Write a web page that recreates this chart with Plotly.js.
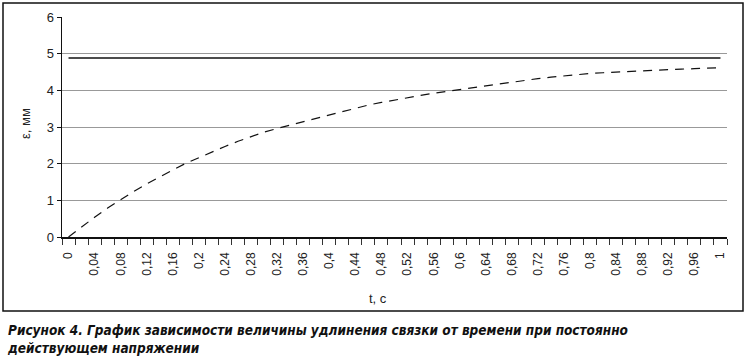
<!DOCTYPE html>
<html>
<head>
<meta charset="utf-8">
<script src="https://cdn.plot.ly/plotly-3.0.1.min.js"></script>
<style>html,body{margin:0;padding:0;background:#fff;}#chart{width:746px;height:356px;}</style>
</head>
<body>
<div id="chart"></div>
<script>
// Time, s
const timeValues = [0,0.02,0.04,0.06,0.08,0.10,0.12,0.14,0.16,0.18,0.20,0.22,0.24,0.26,0.28,0.30,0.32,0.34,0.36,0.38,0.40,0.42,0.44,0.46,0.48,0.50,0.52,0.54,0.56,0.58,0.60,0.62,0.64,0.66,0.68,0.70,0.72,0.74,0.76,0.78,0.80,0.82,0.84,0.86,0.88,0.90,0.92,0.94,0.96,0.98,1.00];
// Elongation, mm (dashed curve)
const elongation = [0,0.28,0.54,0.79,1.02,1.24,1.45,1.65,1.83,2.01,2.17,2.32,2.47,2.61,2.74,2.86,2.96,3.05,3.15,3.25,3.34,3.43,3.52,3.60,3.67,3.74,3.80,3.86,3.92,3.97,4.02,4.08,4.13,4.19,4.24,4.28,4.32,4.36,4.40,4.43,4.46,4.48,4.50,4.52,4.53,4.54,4.56,4.58,4.59,4.61,4.62];
// Steady level (solid line)
const steadyX = [0, 1];
const steadyY = [4.88, 4.88];
// Tick labels
const tickVals = [0,0.04,0.08,0.12,0.16,0.2,0.24,0.28,0.32,0.36,0.4,0.44,0.48,0.52,0.56,0.6,0.64,0.68,0.72,0.76,0.8,0.84,0.88,0.92,0.96,1];
const tickText = ["0","0,04","0,08","0,12","0,16","0,2","0,24","0,28","0,32","0,36","0,4","0,44","0,48","0,52","0,56","0,6","0,64","0,68","0,72","0,76","0,8","0,84","0,88","0,92","0,96","1"];
const yTicks = [0,1,2,3,4,5,6];

const W = 746, H = 356;
const L = 62, R = 727, T = 17, B = 237;
const px = p => (p - L) / (R - L);
const py = p => (B - p) / (B - T);

const font = "Liberation Sans, Arial, sans-serif";

const traces = [
  {x: steadyX, y: steadyY, mode: 'lines', line: {color: '#111', width: 1.5}, hoverinfo: 'skip', showlegend: false},
  {x: timeValues, y: elongation, mode: 'lines', line: {color: '#111', width: 1.2, dash: '9px,7px'}, hoverinfo: 'skip', showlegend: false}
];

const layout = {
  width: W, height: H,
  margin: {l: L, r: W - R, t: T, b: H - B, pad: 0},
  paper_bgcolor: '#fff', plot_bgcolor: '#fff',
  showlegend: false,
  font: {family: font, size: 12, color: '#222'},
  xaxis: {
    type: 'linear', range: [-0.01, 1.01], fixedrange: true,
    tickmode: 'array', tickvals: tickVals, ticktext: tickText,
    tickangle: -90, ticks: 'outside', ticklen: 9, tickcolor: 'rgba(0,0,0,0)',
    tickfont: {family: font, size: 12, color: '#222'},
    showgrid: false, zeroline: false,
    showline: true, linecolor: '#111', linewidth: 1.5,
    minor: {tick0: -0.01, dtick: 0.02, ticks: 'outside', ticklen: 6, tickcolor: '#333', tickwidth: 1, showgrid: false}
  },
  yaxis: {
    range: [0, 6], fixedrange: true,
    tickmode: 'array', tickvals: yTicks,
    ticks: 'outside', ticklen: 4, tickcolor: '#111',
    tickfont: {family: font, size: 13, color: '#222'},
    showgrid: true, gridcolor: '#999', gridwidth: 1,
    zeroline: false, showline: true, linecolor: '#111', linewidth: 1.5
  },
  shapes: [
    {type: 'rect', xref: 'paper', yref: 'paper', x0: px(3), x1: px(743), y0: py(311), y1: py(3), line: {color: '#111', width: 1.5}, fillcolor: 'rgba(0,0,0,0)'}
  ],
  annotations: [
    {text: 'ε, мм', xref: 'paper', yref: 'paper', x: px(25), y: py(124), textangle: -90, showarrow: false, font: {family: font, size: 13, color: '#222'}, xanchor: 'center', yanchor: 'middle'},
    {text: 't, c', xref: 'paper', yref: 'paper', x: px(378), y: py(298), showarrow: false, font: {family: font, size: 13, color: '#222'}, xanchor: 'center', yanchor: 'middle'},
    {text: '<b><i>Рисунок 4. График зависимости величины удлинения связки от времени при постоянно<br>действующем напряжении</i></b>', xref: 'paper', yref: 'paper', x: px(5), y: py(320), xanchor: 'left', yanchor: 'top', align: 'left', showarrow: false, font: {family: "Liberation Sans Narrow, DejaVu Sans Condensed, Liberation Sans, sans-serif", size: 13.5, color: '#111'}}
  ]
};

Plotly.newPlot('chart', traces, layout, {staticPlot: true, displayModeBar: false});
</script>
</body>
</html>
